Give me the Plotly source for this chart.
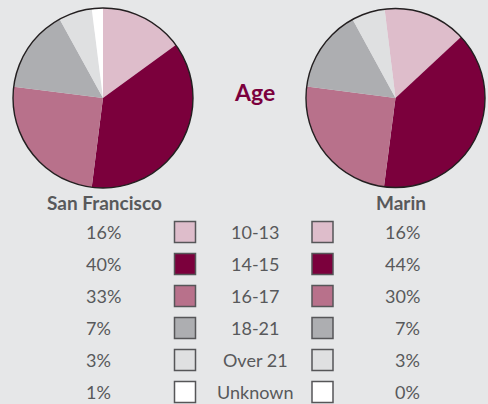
import plotly.graph_objects as go

# ---- data ----
categories = ["10-13", "14-15", "16-17", "18-21", "Over 21", "Unknown"]
sf_labels = ["16%", "40%", "33%", "7%", "3%", "1%"]
marin_labels = ["16%", "44%", "30%", "7%", "3%", "0%"]
sf_slices = [15, 37, 25, 15, 6, 2]
marin_slices = [15, 39, 25, 15, 6, 0]
colors = ["#DEBDCB", "#7B003C", "#B8718B", "#ADAEB1", "#DFE0E1", "#FFFFFF"]

W, H = 488, 404
BG = "#E6E7E8"
TXT = "#58595B"
FONT = "Lato"

def dom_x(c, r):
    return [(c - r) / W, (c + r) / W]

def dom_y(c, r):
    return [1 - (c + r) / H, 1 - (c - r) / H]

fig = go.Figure()

pies = [(sf_slices, 103, 98, 90, 0), (marin_slices, 395.5, 98, 89.5, -7)]
for vals, cx, cy, r, rot in pies:
    dom = dict(x=dom_x(cx, r), y=dom_y(cy, r))
    fig.add_trace(go.Pie(values=vals, labels=categories, sort=False, direction="clockwise",
                         rotation=rot, marker=dict(colors=colors, line=dict(width=0)),
                         textinfo="none", hoverinfo="label+percent", showlegend=False,
                         domain=dom))
    # thin dark outline around the pie
    fig.add_trace(go.Pie(values=[1], labels=["outline"], sort=False,
                         marker=dict(colors=["rgba(0,0,0,0)"], line=dict(color="#231F20", width=1.4)),
                         textinfo="none", hoverinfo="skip", showlegend=False, domain=dom))

# ---- table / legend ----
row_y = [232 + 32 * i for i in range(len(categories))]
sf_sq_x, marin_sq_x = 185, 322.5
fig.add_trace(go.Scatter(x=[sf_sq_x] * len(categories) + [marin_sq_x] * len(categories),
                         y=row_y + row_y, mode="markers", hoverinfo="skip", showlegend=False,
                         marker=dict(symbol="square", size=21, color=colors + colors,
                                     line=dict(color="#565658", width=1.5))))

fig.update_xaxes(range=[0, W], visible=False, fixedrange=True)
fig.update_yaxes(range=[H, 0], visible=False, fixedrange=True)

ann = []
for i, y in enumerate(row_y):
    ann.append(dict(x=84, y=y, text=sf_labels[i], xanchor="left"))
    ann.append(dict(x=255, y=y, text=categories[i], xanchor="center"))
    ann.append(dict(x=422, y=y, text=marin_labels[i], xanchor="right"))
annotations = [dict(a, xref="x", yref="y", yanchor="middle", showarrow=False,
                    font=dict(family=FONT, size=18, color=TXT)) for a in ann]
annotations += [
    dict(x=104.5, y=202, text="<b>San Francisco</b>", font=dict(family=FONT, size=19, color=TXT)),
    dict(x=400.5, y=202, text="<b>Marin</b>", font=dict(family=FONT, size=19, color=TXT)),
    dict(x=254, y=92, text="<b>Age</b>", font=dict(family=FONT, size=23, color="#7B003C")),
]
for a in annotations[-3:]:
    a.update(xref="x", yref="y", xanchor="center", yanchor="middle", showarrow=False)

fig.update_layout(width=W, height=H, margin=dict(l=0, r=0, t=0, b=0),
                  paper_bgcolor=BG, plot_bgcolor=BG, annotations=annotations)

fig.write_html("out.html", config={"displayModeBar": False},
               post_script="document.body.style.margin='0';document.body.style.overflow='hidden';")
